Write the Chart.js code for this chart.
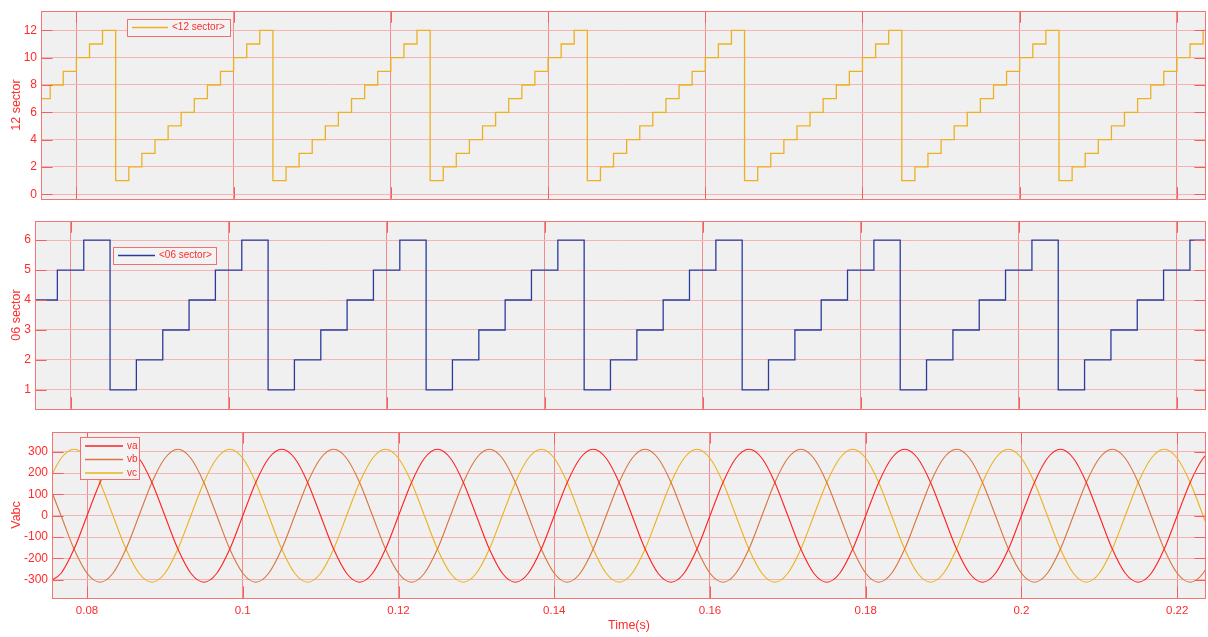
<!DOCTYPE html>
<html>
<head>
<meta charset="utf-8">
<script src="https://cdn.jsdelivr.net/npm/chart.js@4.4.1/dist/chart.umd.min.js"></script>
<style>
  html, body { margin: 0; padding: 0; background: #fff; }
  #wrap { position: relative; width: 1208px; height: 637px; }
  canvas { position: absolute; left: 0; }
</style>
</head>
<body>
<div id="wrap">
  <canvas id="sector12" width="1208" height="210" style="top:0px"></canvas>
  <canvas id="sector06" width="1208" height="210" style="top:210px"></canvas>
  <canvas id="vabc" width="1208" height="217" style="top:420px"></canvas>
</div>
<script>
// 采样时间 (s)
const times = [
  0.075, 0.07667, 0.07833,
  0.08, 0.08167, 0.08333, 0.085, 0.08667, 0.08833,
  0.09, 0.09167, 0.09333, 0.095, 0.09667, 0.09833,
  0.1, 0.10167, 0.10333, 0.105, 0.10667, 0.10833,
  0.11, 0.11167, 0.11333, 0.115, 0.11667, 0.11833,
  0.12, 0.12167, 0.12333, 0.125, 0.12667, 0.12833,
  0.13, 0.13167, 0.13333, 0.135, 0.13667, 0.13833,
  0.14, 0.14167, 0.14333, 0.145, 0.14667, 0.14833,
  0.15, 0.15167, 0.15333, 0.155, 0.15667, 0.15833,
  0.16, 0.16167, 0.16333, 0.165, 0.16667, 0.16833,
  0.17, 0.17167, 0.17333, 0.175, 0.17667, 0.17833,
  0.18, 0.18167, 0.18333, 0.185, 0.18667, 0.18833,
  0.19, 0.19167, 0.19333, 0.195, 0.19667, 0.19833,
  0.2, 0.20167, 0.20333, 0.205, 0.20667, 0.20833,
  0.21, 0.21167, 0.21333, 0.215, 0.21667, 0.21833,
  0.22, 0.22167, 0.22333, 0.225
];

// 12扇区
const sector12 = [
  7, 8, 9,
  10, 11, 12, 1, 2, 3,
  4, 5, 6, 7, 8, 9,
  10, 11, 12, 1, 2, 3,
  4, 5, 6, 7, 8, 9,
  10, 11, 12, 1, 2, 3,
  4, 5, 6, 7, 8, 9,
  10, 11, 12, 1, 2, 3,
  4, 5, 6, 7, 8, 9,
  10, 11, 12, 1, 2, 3,
  4, 5, 6, 7, 8, 9,
  10, 11, 12, 1, 2, 3,
  4, 5, 6, 7, 8, 9,
  10, 11, 12, 1, 2, 3,
  4, 5, 6, 7, 8, 9,
  10, 11, 12, 1
];

// 6扇区
const sector06 = [
  4, 4, 5,
  5, 6, 6, 1, 1, 2,
  2, 3, 3, 4, 4, 5,
  5, 6, 6, 1, 1, 2,
  2, 3, 3, 4, 4, 5,
  5, 6, 6, 1, 1, 2,
  2, 3, 3, 4, 4, 5,
  5, 6, 6, 1, 1, 2,
  2, 3, 3, 4, 4, 5,
  5, 6, 6, 1, 1, 2,
  2, 3, 3, 4, 4, 5,
  5, 6, 6, 1, 1, 2,
  2, 3, 3, 4, 4, 5,
  5, 6, 6, 1, 1, 2,
  2, 3, 3, 4, 4, 5,
  5, 6, 6, 1
];

// 三相电压 (V)
const va = [
  -311, -269, -156,
  0, 156, 269, 311, 269, 156,
  0, -156, -269, -311, -269, -156,
  0, 156, 269, 311, 269, 156,
  0, -156, -269, -311, -269, -156,
  0, 156, 269, 311, 269, 156,
  0, -156, -269, -311, -269, -156,
  0, 156, 269, 311, 269, 156,
  0, -156, -269, -311, -269, -156,
  0, 156, 269, 311, 269, 156,
  0, -156, -269, -311, -269, -156,
  0, 156, 269, 311, 269, 156,
  0, -156, -269, -311, -269, -156,
  0, 156, 269, 311, 269, 156,
  0, -156, -269, -311, -269, -156,
  0, 156, 269, 311
];
const vb = [
  156, 0, -156,
  -269, -311, -269, -156, 0, 156,
  269, 311, 269, 156, 0, -156,
  -269, -311, -269, -156, 0, 156,
  269, 311, 269, 156, 0, -156,
  -269, -311, -269, -156, 0, 156,
  269, 311, 269, 156, 0, -156,
  -269, -311, -269, -156, 0, 156,
  269, 311, 269, 156, 0, -156,
  -269, -311, -269, -156, 0, 156,
  269, 311, 269, 156, 0, -156,
  -269, -311, -269, -156, 0, 156,
  269, 311, 269, 156, 0, -156,
  -269, -311, -269, -156, 0, 156,
  269, 311, 269, 156, 0, -156,
  -269, -311, -269, -156
];
const vc = [
  156, 269, 311,
  269, 156, 0, -156, -269, -311,
  -269, -156, 0, 156, 269, 311,
  269, 156, 0, -156, -269, -311,
  -269, -156, 0, 156, 269, 311,
  269, 156, 0, -156, -269, -311,
  -269, -156, 0, 156, 269, 311,
  269, 156, 0, -156, -269, -311,
  -269, -156, 0, 156, 269, 311,
  269, 156, 0, -156, -269, -311,
  -269, -156, 0, 156, 269, 311,
  269, 156, 0, -156, -269, -311,
  -269, -156, 0, 156, 269, 311,
  269, 156, 0, -156, -269, -311,
  -269, -156, 0, 156, 269, 311,
  269, 156, 0, -156
];

// 刻度
const xTicks = [0.08, 0.1, 0.12, 0.14, 0.16, 0.18, 0.2, 0.22];
const y12Ticks = [0, 2, 4, 6, 8, 10, 12];
const y06Ticks = [1, 2, 3, 4, 5, 6];
const yVTicks = [-300, -200, -100, 0, 100, 200, 300];

const RED = '#ff2b2b';
Chart.defaults.font.family = '"Liberation Sans", Arial, sans-serif';

const toXY = ys => times.map((t, i) => ({x: t, y: ys[i]}));

// 背景、边框、内侧刻度和图例
const panelPlugin = {
    id: 'panel',
    beforeDraw(chart) {
        const {ctx, chartArea: a} = chart;
        ctx.save();
        ctx.fillStyle = '#f0f0f0';
        ctx.fillRect(a.left, a.top, a.right - a.left, a.bottom - a.top);
        ctx.restore();
    },
    afterDatasetsDraw(chart) {
        const {ctx, chartArea: a, scales} = chart;
        const len = 11.6;
        ctx.save();
        ctx.strokeStyle = '#f06060';
        ctx.lineWidth = 1;
        ctx.beginPath();
        scales.x.ticks.forEach(t => {
            const px = Math.round(scales.x.getPixelForValue(t.value)) + 0.5;
            ctx.moveTo(px, a.top); ctx.lineTo(px, a.top + len);
            ctx.moveTo(px, a.bottom); ctx.lineTo(px, a.bottom - len);
        });
        scales.y.ticks.forEach(t => {
            const py = Math.round(scales.y.getPixelForValue(t.value)) + 0.5;
            ctx.moveTo(a.left, py); ctx.lineTo(a.left + len, py);
            ctx.moveTo(a.right, py); ctx.lineTo(a.right - len, py);
        });
        ctx.stroke();
        ctx.strokeStyle = '#f27474';
        ctx.strokeRect(Math.round(a.left) + 0.5, Math.round(a.top) + 0.5,
            Math.round(a.right - a.left) - 1, Math.round(a.bottom - a.top));
        ctx.restore();
    },
    afterDraw(chart, args, opts) {
        const {ctx} = chart;
        ctx.save();
        ctx.fillStyle = '#f3f3f3';
        ctx.fillRect(opts.x, opts.y, opts.w, opts.h);
        ctx.strokeStyle = '#f07070';
        ctx.lineWidth = 1;
        ctx.strokeRect(opts.x + 0.5, opts.y + 0.5, opts.w, opts.h);
        ctx.font = '10px "Liberation Sans", Arial, sans-serif';
        ctx.textBaseline = 'middle';
        chart.data.datasets.forEach((ds, i) => {
            const y = opts.y + opts.row0 + i * opts.rowH;
            ctx.strokeStyle = ds.borderColor;
            ctx.lineWidth = 1.3;
            ctx.beginPath();
            ctx.moveTo(opts.x + 5, y);
            ctx.lineTo(opts.x + 5 + opts.lineLen, y);
            ctx.stroke();
            ctx.fillStyle = RED;
            ctx.fillText(ds.label, opts.x + 9 + opts.lineLen, y);
        });
        ctx.restore();
    }
};

function makePanel(id, datasets, cfg) {
    return new Chart(document.getElementById(id).getContext('2d'), {
        type: 'line',
        data: {datasets},
        options: {
            responsive: false,
            animation: false,
            layout: {padding: {top: cfg.padTop, right: 2, bottom: cfg.padBottom, left: 0}},
            elements: {point: {radius: 0}, line: {borderWidth: 1.3}},
            scales: {
                x: {
                    type: 'linear',
                    min: 0.0755,
                    max: 0.2237,
                    afterBuildTicks: s => { s.ticks = xTicks.map(v => ({value: v})); },
                    afterFit: s => { s.height = cfg.xHeight; },
                    grid: {color: '#f08c8c', drawTicks: false},
                    border: {display: false},
                    ticks: {
                        display: cfg.showX, color: RED, font: {size: 11.5}, padding: 6,
                        maxRotation: 0, autoSkip: false, callback: v => String(v)
                    },
                    title: {
                        display: cfg.showX, text: 'Time(s)', color: RED,
                        font: {size: 12.5}, padding: {top: 0, bottom: 4}
                    }
                },
                y: {
                    min: cfg.yMin,
                    max: cfg.yMax,
                    afterBuildTicks: s => { s.ticks = cfg.yTicks.map(v => ({value: v})); },
                    afterFit: s => { s.width = cfg.yWidth; },
                    grid: {color: '#f4b4b4', drawTicks: false},
                    border: {display: false},
                    ticks: {color: RED, font: {size: 12}, padding: 4, callback: v => String(v)},
                    title: {
                        display: true, text: cfg.yTitle, color: RED,
                        font: {size: 12.5}, padding: {top: 9, bottom: 0}
                    }
                }
            },
            plugins: {
                legend: {display: false},
                tooltip: {enabled: false},
                panel: cfg.legend
            }
        },
        plugins: [panelPlugin]
    });
}

// 12扇区
makePanel('sector12', [{
    label: '<12 sector>',
    data: toXY(sector12),
    borderColor: '#edb120',
    stepped: 'before'
}], {
    padTop: 7, padBottom: 9, xHeight: 0, showX: false,
    yMin: -0.33, yMax: 13.4, yTicks: y12Ticks, yWidth: 41, yTitle: '12 sector',
    legend: {x: 127, y: 19, w: 103, h: 17, row0: 8.5, rowH: 13, lineLen: 36}
});

// 6扇区
makePanel('sector06', [{
    label: '<06 sector>',
    data: toXY(sector06),
    borderColor: '#2a3b9c',
    stepped: 'before'
}], {
    padTop: 10, padBottom: 6, xHeight: 0, showX: false,
    yMin: 0.37, yMax: 6.63, yTicks: y06Ticks, yWidth: 35, yTitle: '06 sector',
    legend: {x: 113, y: 37, w: 103, h: 17, row0: 8.5, rowH: 13, lineLen: 37}
});

// 三相电压
makePanel('vabc', [
    {label: 'va', data: toXY(va), borderColor: '#ff2020', borderWidth: 1.1, cubicInterpolationMode: 'monotone'},
    {label: 'vb', data: toXY(vb), borderColor: '#d9743c', borderWidth: 1.1, cubicInterpolationMode: 'monotone'},
    {label: 'vc', data: toXY(vc), borderColor: '#edb120', borderWidth: 1.1, cubicInterpolationMode: 'monotone'}
], {
    padTop: 12, padBottom: 0, xHeight: 39, showX: true,
    yMin: -385, yMax: 392, yTicks: yVTicks, yWidth: 52, yTitle: 'Vabc',
    legend: {x: 80, y: 17, w: 59, h: 42, row0: 9, rowH: 13.5, lineLen: 38}
});
</script>
</body>
</html>
